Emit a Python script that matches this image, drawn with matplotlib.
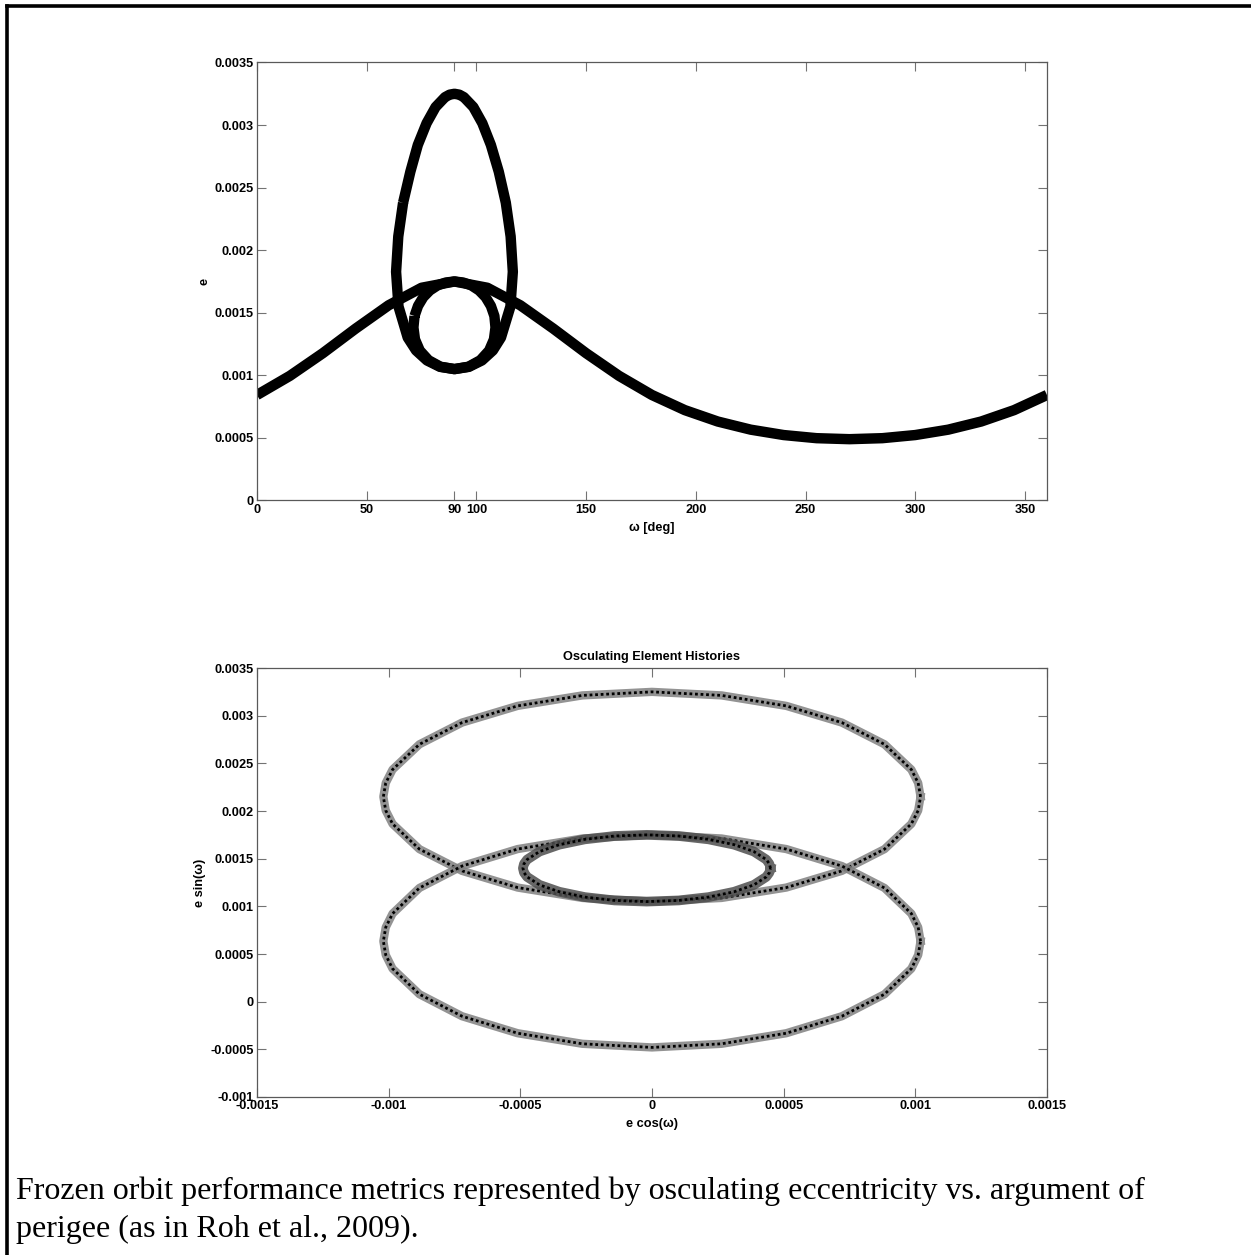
import numpy as np
import matplotlib
matplotlib.use('Agg')
import matplotlib.pyplot as plt
from matplotlib.lines import Line2D

# --- data (e in units of 1e-3) ---

# top panel: e vs omega
w_wave = [0, 15, 30, 45, 60, 75, 90, 105, 120, 135, 150, 165, 180,
          195, 210, 225, 240, 255, 270, 285, 300, 315, 330, 345, 360]
e_wave = [0.843, 0.996, 1.177, 1.374, 1.560, 1.700, 1.750, 1.700, 1.560, 1.374, 1.177, 0.996, 0.843,
          0.722, 0.631, 0.566, 0.523, 0.498, 0.490, 0.498, 0.523, 0.566, 0.631, 0.722, 0.843]

w_loop = [66.6, 69.9, 73.3, 77.3, 81.4, 85.7, 87.8, 90.0, 92.2, 94.3, 98.6, 102.7, 106.6, 110.2, 113.4,
          115.6, 116.6, 115.5, 111.2, 107.5, 102.5, 96.6, 90.0, 83.4, 77.5, 72.5, 68.7, 64.5, 63.4, 64.4, 66.6]
e_loop = [2.380, 2.627, 2.841, 3.015, 3.144, 3.223, 3.243, 3.250, 3.243, 3.223, 3.144, 3.015, 2.841, 2.627, 2.380,
          2.110, 1.828, 1.550, 1.302, 1.199, 1.119, 1.068, 1.050, 1.068, 1.119, 1.199, 1.302, 1.550, 1.828, 2.110, 2.380]

w_ring = [71.8, 73.4, 75.8, 78.8, 82.3, 86.1, 90.0, 93.9, 97.7, 101.2, 104.2, 106.6, 108.2,
          108.7, 108.0, 105.8, 101.8, 96.4, 90.0, 83.6, 78.2, 74.2, 72.0, 71.3, 71.8]
e_ring = [1.474, 1.555, 1.625, 1.679, 1.719, 1.742, 1.750, 1.742, 1.719, 1.679, 1.625, 1.555, 1.474,
          1.383, 1.288, 1.198, 1.121, 1.069, 1.050, 1.069, 1.121, 1.198, 1.288, 1.383, 1.474]

# bottom panel: e sin(w) vs e cos(w)
x_big = [1.020, 1.011, 0.985, 0.883, 0.721, 0.510, 0.264, 0.000, -0.264, -0.510, -0.721, -0.883, -0.985, -1.011,
         -1.020, -1.011, -0.985, -0.883, -0.721, -0.510, -0.264, 0.000, 0.264, 0.510, 0.721, 0.883, 0.985, 1.011, 1.020]
y_up = [2.150, 2.294, 2.435, 2.700, 2.928, 3.103, 3.213, 3.250, 3.213, 3.103, 2.928, 2.700, 2.435, 2.294,
        2.150, 2.006, 1.865, 1.600, 1.372, 1.197, 1.088, 1.050, 1.088, 1.197, 1.372, 1.600, 1.865, 2.006, 2.150]
y_low = [0.635, 0.780, 0.924, 1.193, 1.423, 1.601, 1.712, 1.750, 1.712, 1.601, 1.423, 1.193, 0.924, 0.780,
         0.635, 0.490, 0.346, 0.078, -0.153, -0.331, -0.442, -0.480, -0.442, -0.331, -0.153, 0.078, 0.346, 0.490, 0.635]
x_small = [0.450, 0.446, 0.434, 0.387, 0.312, 0.215, 0.102, -0.020, -0.142, -0.255, -0.352, -0.427, -0.474, -0.486,
           -0.490, -0.486, -0.474, -0.427, -0.352, -0.255, -0.142, -0.020, 0.102, 0.215, 0.312, 0.387, 0.434, 0.446, 0.450]
y_small = [1.400, 1.446, 1.491, 1.575, 1.647, 1.703, 1.738, 1.750, 1.738, 1.703, 1.647, 1.575, 1.491, 1.446,
           1.400, 1.354, 1.309, 1.225, 1.153, 1.097, 1.062, 1.050, 1.062, 1.097, 1.153, 1.225, 1.309, 1.354, 1.400]

# ticks
top_xticks = [0, 50, 90, 100, 150, 200, 250, 300, 350]
top_yticks = [0, 0.0005, 0.001, 0.0015, 0.002, 0.0025, 0.003, 0.0035]
top_ylabels = ['0', '0.0005', '0.001', '0.0015', '0.002', '0.0025', '0.003', '0.0035']
bot_xticks = [-0.0015, -0.001, -0.0005, 0, 0.0005, 0.001, 0.0015]
bot_xlabels = ['-0.0015', '-0.001', '-0.0005', '0', '0.0005', '0.001', '0.0015']
bot_yticks = [-0.001, -0.0005, 0, 0.0005, 0.001, 0.0015, 0.002, 0.0025, 0.003, 0.0035]
bot_ylabels = ['-0.001', '-0.0005', '0', '0.0005', '0.001', '0.0015', '0.002', '0.0025', '0.003', '0.0035']

caption1 = 'Frozen orbit performance metrics represented by osculating eccentricity vs. argument of'
caption2 = 'perigee (as in Roh et al., 2009).'

sc = 1e-3
plt.rcParams['font.family'] = ['Liberation Sans', 'DejaVu Sans']
plt.rcParams['font.weight'] = 'bold'
plt.rcParams['axes.labelweight'] = 'bold'
plt.rcParams['font.size'] = 9.2

fig = plt.figure(figsize=(12.51, 12.55), dpi=100)


def style(ax):
    for s in ax.spines.values():
        s.set_color('0.35')
        s.set_linewidth(0.9)
    ax.tick_params(direction='in', length=6.5, width=0.8, color='0.45',
                   top=True, right=True, pad=2.5)


# top panel
ax1 = fig.add_axes([0.2054, 0.6012, 0.6315, 0.3490])
lw_top = 7.5
for w, e in [(w_wave, e_wave), (w_loop, e_loop), (w_ring, e_ring)]:
    ax1.plot(w, np.array(e) * sc, color='black', lw=lw_top,
             solid_joinstyle='round', solid_capstyle='butt')
ax1.set_xlim(0, 360)
ax1.set_ylim(0, 0.0035)
ax1.set_xticks(top_xticks)
ax1.set_xticklabels([str(t) for t in top_xticks])
ax1.set_yticks(top_yticks)
ax1.set_yticklabels(top_ylabels)
ax1.set_xlabel('ω [deg]', labelpad=4)
ax1.set_ylabel('e', labelpad=3)
style(ax1)

# bottom panel
ax2 = fig.add_axes([0.2054, 0.1259, 0.6315, 0.3418])
for xs, ys, c, lw in [(x_big, y_up, '0.5', 6.0), (x_big, y_low, '0.5', 6.0), (x_small, y_small, '0.3', 7.0)]:
    xs = np.array(xs) * sc
    ys = np.array(ys) * sc
    ax2.plot(xs, ys, color=c, lw=lw, alpha=0.85, solid_joinstyle='round')
    ax2.plot(xs, ys, color='black', lw=2.0, ls=(0, (1.0, 1.0)))
ax2.set_xlim(-0.0015, 0.0015)
ax2.set_ylim(-0.001, 0.0035)
ax2.set_xticks(bot_xticks)
ax2.set_xticklabels(bot_xlabels)
ax2.set_yticks(bot_yticks)
ax2.set_yticklabels(bot_ylabels)
ax2.set_xlabel('e cos(ω)', labelpad=4)
ax2.set_ylabel('e sin(ω)', labelpad=3)
ax2.set_title('Osculating Element Histories', fontsize=9.2, fontweight='bold', pad=6)
style(ax2)

# caption
fig.text(0.0128, 1 - 1199 / 1255, caption1, family='Liberation Serif', weight='normal',
         fontsize=23, va='baseline')
fig.text(0.0128, 1 - 1237 / 1255, caption2, family='Liberation Serif', weight='normal',
         fontsize=23, va='baseline')

# frame around the figure
fig.add_artist(Line2D([0.0052, 0.0052], [0.0, 0.9956], color='black', lw=2.6, transform=fig.transFigure))
fig.add_artist(Line2D([0.0052, 1.0], [0.9956, 0.9956], color='black', lw=2.6, transform=fig.transFigure))

fig.savefig('out.png', dpi=100)
